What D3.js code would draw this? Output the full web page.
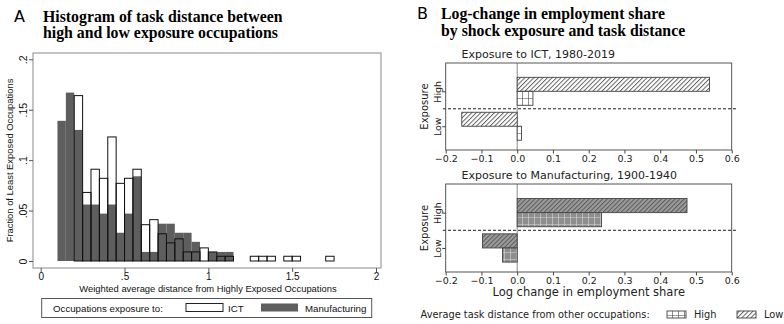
<!DOCTYPE html>
<html>
<head>
<meta charset="utf-8">
<script src="https://cdn.jsdelivr.net/npm/d3@7"></script>
<style>
  body { margin: 0; background: #fff; }
  svg { display: block; }
</style>
</head>
<body>
<svg id="chart"></svg>
<script>
// Panel A: histogram bins (left edge, fraction), bin width 0.05
const binWidth = 0.05;
const ictLeft = [0.20, 0.25, 0.30, 0.35, 0.40, 0.45, 0.50, 0.55, 0.60, 0.65, 0.70, 0.75, 0.80, 0.85, 0.90, 0.95, 1.00, 1.05, 1.10, 1.25, 1.30, 1.35, 1.45, 1.50, 1.70];
const ictFrac = [0.164, 0.068, 0.091, 0.082, 0.123, 0.077, 0.082, 0.091, 0.036, 0.041, 0.027, 0.018, 0.022, 0.009, 0.009, 0.013, 0.009, 0.0047, 0.0047, 0.0047, 0.0047, 0.0047, 0.0047, 0.0047, 0.0047];
const mfgLeft = [0.10, 0.15, 0.20, 0.25, 0.30, 0.35, 0.40, 0.45, 0.50, 0.55, 0.60, 0.65, 0.70, 0.75, 0.80, 0.85, 0.90, 0.95, 1.00, 1.05, 1.10];
const mfgFrac = [0.139, 0.167, 0.130, 0.056, 0.056, 0.047, 0.056, 0.028, 0.047, 0.084, 0.009, 0.009, 0.037, 0.037, 0.028, 0.028, 0.019, 0, 0.009, 0.009, 0.009];
const histXTicks = [0, 0.5, 1, 1.5, 2];
const histYTicks = [0, 0.05, 0.1, 0.15, 0.2];

// Panel B: log change in employment share
const exposureCats = ["Low", "High"];
const ictHighDist = [0.012, 0.044];   // Low exposure, High exposure
const ictLowDist = [-0.155, 0.538];
const mfgHighDist = [-0.041, 0.236];
const mfgLowDist = [-0.097, 0.475];
const barXTicks = [-0.2, -0.1, 0.0, 0.1, 0.2, 0.3, 0.4, 0.5, 0.6];

const W = 784, H = 324;
const svg = d3.select("#chart").attr("width", W).attr("height", H);
const defs = svg.append("defs");

function hatch(id, face, line) {
    const p = defs.append("pattern")
        .attr("id", id)
        .attr("patternUnits", "userSpaceOnUse")
        .attr("width", 3.2).attr("height", 3.2)
        .attr("patternTransform", "rotate(45)");
    p.append("rect").attr("width", 3.2).attr("height", 3.2).attr("fill", face);
    p.append("line").attr("x1", 0.5).attr("x2", 0.5).attr("y1", 0).attr("y2", 3.2)
        .attr("stroke", line).attr("stroke-width", 0.9);
}
function grid(id, face, line) {
    const p = defs.append("pattern")
        .attr("id", id)
        .attr("patternUnits", "userSpaceOnUse")
        .attr("width", 6).attr("height", 7);
    p.append("rect").attr("width", 6).attr("height", 7).attr("fill", face);
    p.append("path").attr("d", "M0,0V7M0,0H6")
        .attr("stroke", line).attr("stroke-width", 1.2).attr("fill", "none");
}
hatch("hatchIct", "#fff", "#555");
grid("gridIct", "#fff", "#444");
hatch("hatchMfg", "#9a9a9a", "#555");
grid("gridMfg", "#8e8e8e", "#d8d8d8");

// ---------------- Panel A ----------------
const fontA = "'Liberation Sans', Arial, sans-serif";
const serif = "'Liberation Serif', 'Times New Roman', serif";
const titleSize = 15.8;

svg.append("text").attr("x", 14).attr("y", 21.5)
    .attr("font-family", "'DejaVu Sans', sans-serif").attr("font-size", 16)
    .text("A");
svg.append("text").attr("x", 43).attr("y", 21.5)
    .attr("font-family", serif).attr("font-weight", "bold").attr("font-size", titleSize)
    .text("Histogram of task distance between");
svg.append("text").attr("x", 43).attr("y", 37.5)
    .attr("font-family", serif).attr("font-weight", "bold").attr("font-size", titleSize)
    .text("high and low exposure occupations");

const frameA = { left: 33, right: 381, top: 53, bottom: 268 };
const xA = d3.scaleLinear().domain([0, 2]).range([40.7, 376]);
const yA = d3.scaleLinear().domain([0, 0.2]).range([261, 59.3]);

svg.append("rect")
    .attr("x", frameA.left).attr("y", frameA.top)
    .attr("width", frameA.right - frameA.left).attr("height", frameA.bottom - frameA.top)
    .attr("fill", "none").attr("stroke", "#8a8a8a").attr("stroke-width", 1);

const mfgBins = mfgLeft.map((x0, i) => ({ x0, v: mfgFrac[i] })).filter(d => d.v > 0);
const ictBins = ictLeft.map((x0, i) => ({ x0, v: ictFrac[i] }));

svg.append("g").selectAll("rect")
    .data(mfgBins)
    .join("rect")
    .attr("x", d => xA(d.x0))
    .attr("width", d => xA(d.x0 + binWidth) - xA(d.x0))
    .attr("y", d => yA(d.v))
    .attr("height", d => yA(0) - yA(d.v))
    .attr("fill", "#5e5e5e");

svg.append("g").selectAll("rect")
    .data(ictBins)
    .join("rect")
    .attr("x", d => xA(d.x0))
    .attr("width", d => xA(d.x0 + binWidth) - xA(d.x0))
    .attr("y", d => yA(d.v))
    .attr("height", d => yA(0) - yA(d.v))
    .attr("fill", "none")
    .attr("stroke", "#111")
    .attr("stroke-width", 1);

const stataFmt = d => d === 0 ? "0" : String(d).replace(/^0\./, ".");

const axA = svg.append("g")
    .attr("transform", `translate(0,${frameA.bottom})`)
    .call(d3.axisBottom(xA).tickValues(histXTicks).tickFormat(stataFmt).tickSize(4).tickSizeOuter(0).tickPadding(1));
axA.select(".domain").remove();
axA.selectAll("line").attr("stroke", "#555");
axA.selectAll("text").attr("font-family", fontA).attr("font-size", 10).attr("fill", "#111");

const ayA = svg.append("g")
    .attr("transform", `translate(${frameA.left},0)`)
    .call(d3.axisLeft(yA).tickValues(histYTicks).tickFormat(stataFmt).tickSize(4).tickSizeOuter(0));
ayA.select(".domain").remove();
ayA.selectAll("line").attr("stroke", "#555");
ayA.selectAll("text")
    .attr("transform", "rotate(-90)")
    .attr("x", 0).attr("y", -6).attr("dy", 0)
    .attr("text-anchor", "middle")
    .attr("font-family", fontA).attr("font-size", 10.5).attr("fill", "#111");

svg.append("text")
    .attr("x", (frameA.left + frameA.right) / 2 + 1).attr("y", 292)
    .attr("text-anchor", "middle")
    .attr("font-family", fontA).attr("font-size", 9.4).attr("fill", "#111")
    .text("Weighted average distance from Highly Exposed Occupations");

svg.append("text")
    .attr("transform", `translate(13,${(frameA.top + frameA.bottom) / 2}) rotate(-90)`)
    .attr("text-anchor", "middle")
    .attr("font-family", fontA).attr("font-size", 9.4).attr("fill", "#111")
    .text("Fraction of Least Exposed Occupations");

// legend A
const legA = svg.append("g");
legA.append("rect").attr("x", 41.7).attr("y", 298.5).attr("width", 330).attr("height", 19)
    .attr("fill", "#fff").attr("stroke", "#555").attr("stroke-width", 1);
legA.append("text").attr("x", 53).attr("y", 311.5)
    .attr("font-family", fontA).attr("font-size", 9.7).attr("fill", "#111")
    .text("Occupations exposure to:");
legA.append("rect").attr("x", 186).attr("y", 303.5).attr("width", 37).attr("height", 8)
    .attr("fill", "#fff").attr("stroke", "#222").attr("stroke-width", 1);
legA.append("text").attr("x", 228).attr("y", 311.5)
    .attr("font-family", fontA).attr("font-size", 9.7).attr("fill", "#111")
    .text("ICT");
legA.append("rect").attr("x", 261).attr("y", 303.5).attr("width", 37).attr("height", 8)
    .attr("fill", "#5e5e5e");
legA.append("text").attr("x", 305).attr("y", 311.5)
    .attr("font-family", fontA).attr("font-size", 9.7).attr("fill", "#111")
    .text("Manufacturing");

// ---------------- Panel B ----------------
const fontB = "'DejaVu Sans', sans-serif";

svg.append("text").attr("x", 417).attr("y", 19)
    .attr("font-family", "'DejaVu Sans', sans-serif").attr("font-size", 16)
    .text("B");
svg.append("text").attr("x", 441).attr("y", 19)
    .attr("font-family", serif).attr("font-weight", "bold").attr("font-size", titleSize)
    .text("Log-change in employment share");
svg.append("text").attr("x", 441).attr("y", 36)
    .attr("font-family", serif).attr("font-weight", "bold").attr("font-size", titleSize)
    .text("by shock exposure and task distance");

const xB = d3.scaleLinear().domain([-0.2, 0.6]).range([445.7, 731.7]);

function drawPanel(top, bottom, title, highDist, lowDist, pats, showXLabel) {
    const yB = d3.scaleLinear().domain([-0.68, 1.81]).range([bottom, top]);
    const g = svg.append("g");
    const half = yB(0) - yB(0.4);

    g.append("text")
        .attr("x", 461.5).attr("y", top - 5.5)
        .attr("font-family", fontB).attr("font-size", 11).attr("fill", "#222")
        .text(title);

    // zero line
    g.append("line")
        .attr("x1", xB(0)).attr("x2", xB(0))
        .attr("y1", top).attr("y2", bottom)
        .attr("stroke", "#8a8a8a").attr("stroke-width", 1);

    const rows = exposureCats.map((c, i) => ({ cat: i, hi: highDist[i], lo: lowDist[i] }));

    // low task distance (hatched) above, high task distance (grid) below
    g.selectAll("rect.lo")
        .data(rows)
        .join("rect")
        .attr("class", "lo")
        .attr("x", d => xB(Math.min(0, d.lo)))
        .attr("width", d => Math.abs(xB(d.lo) - xB(0)))
        .attr("y", d => yB(d.cat + 0.4))
        .attr("height", half)
        .attr("fill", `url(#${pats[0]})`)
        .attr("stroke", "#444").attr("stroke-width", 0.9);

    g.selectAll("rect.hi")
        .data(rows)
        .join("rect")
        .attr("class", "hi")
        .attr("x", d => xB(Math.min(0, d.hi)))
        .attr("width", d => Math.abs(xB(d.hi) - xB(0)))
        .attr("y", d => yB(d.cat))
        .attr("height", half)
        .attr("fill", `url(#${pats[1]})`)
        .attr("stroke", "#444").attr("stroke-width", 0.9);

    // separator
    g.append("line")
        .attr("x1", 443).attr("x2", 736)
        .attr("y1", yB(0.5)).attr("y2", yB(0.5))
        .attr("stroke", "#222").attr("stroke-width", 1)
        .attr("stroke-dasharray", "3,2");

    g.append("rect")
        .attr("x", xB.range()[0]).attr("y", top)
        .attr("width", xB.range()[1] - xB.range()[0]).attr("height", bottom - top)
        .attr("fill", "none").attr("stroke", "#444").attr("stroke-width", 0.9);

    const ax = g.append("g")
        .attr("transform", `translate(0,${bottom})`)
        .call(d3.axisBottom(xB).tickValues(barXTicks).tickFormat(d3.format(".1f")).tickSize(3.5).tickSizeOuter(0).tickPadding(2));
    ax.select(".domain").remove();
    ax.selectAll("line").attr("stroke", "#444");
    ax.selectAll("text").attr("font-family", fontB).attr("font-size", 9.5).attr("fill", "#222");

    const ay = g.append("g")
        .attr("transform", `translate(${xB.range()[0]},0)`)
        .call(d3.axisLeft(yB).tickValues([0, 1]).tickFormat(i => exposureCats[i]).tickSize(3.5).tickSizeOuter(0));
    ay.select(".domain").remove();
    ay.selectAll("line").attr("stroke", "#444");
    ay.selectAll("text")
        .attr("transform", "rotate(-90)")
        .attr("x", 0).attr("y", -5).attr("dy", 0)
        .attr("text-anchor", "middle")
        .attr("font-family", fontB).attr("font-size", 9.5).attr("fill", "#222");

    g.append("text")
        .attr("transform", `translate(428,${(top + bottom) / 2}) rotate(-90)`)
        .attr("text-anchor", "middle")
        .attr("font-family", fontB).attr("font-size", 10).attr("fill", "#222")
        .text("Exposure");

    if (showXLabel) {
        g.append("text")
            .attr("x", (xB.range()[0] + xB.range()[1]) / 2).attr("y", 296)
            .attr("text-anchor", "middle")
            .attr("font-family", fontB).attr("font-size", 11.5).attr("fill", "#222")
            .text("Log change in employment share");
    }
}

drawPanel(63, 150, "Exposure to ICT, 1980-2019", ictHighDist, ictLowDist, ["hatchIct", "gridIct"], false);
drawPanel(184, 272, "Exposure to Manufacturing, 1900-1940", mfgHighDist, mfgLowDist, ["hatchMfg", "gridMfg"], true);

// legend B
const legB = svg.append("g");
legB.append("text").attr("x", 420.5).attr("y", 317.5)
    .attr("font-family", fontB).attr("font-size", 9.8).attr("fill", "#222")
    .text("Average task distance from other occupations:");
legB.append("rect").attr("x", 667).attr("y", 311).attr("width", 19).attr("height", 7)
    .attr("fill", "url(#gridIct)").attr("stroke", "#444").attr("stroke-width", 0.9);
legB.append("text").attr("x", 694).attr("y", 317.5)
    .attr("font-family", fontB).attr("font-size", 9.8).attr("fill", "#222")
    .text("High");
legB.append("rect").attr("x", 737).attr("y", 311).attr("width", 19).attr("height", 7)
    .attr("fill", "url(#hatchIct)").attr("stroke", "#444").attr("stroke-width", 0.9);
legB.append("text").attr("x", 764).attr("y", 317.5)
    .attr("font-family", fontB).attr("font-size", 9.8).attr("fill", "#222")
    .text("Low");
</script>
</body>
</html>
